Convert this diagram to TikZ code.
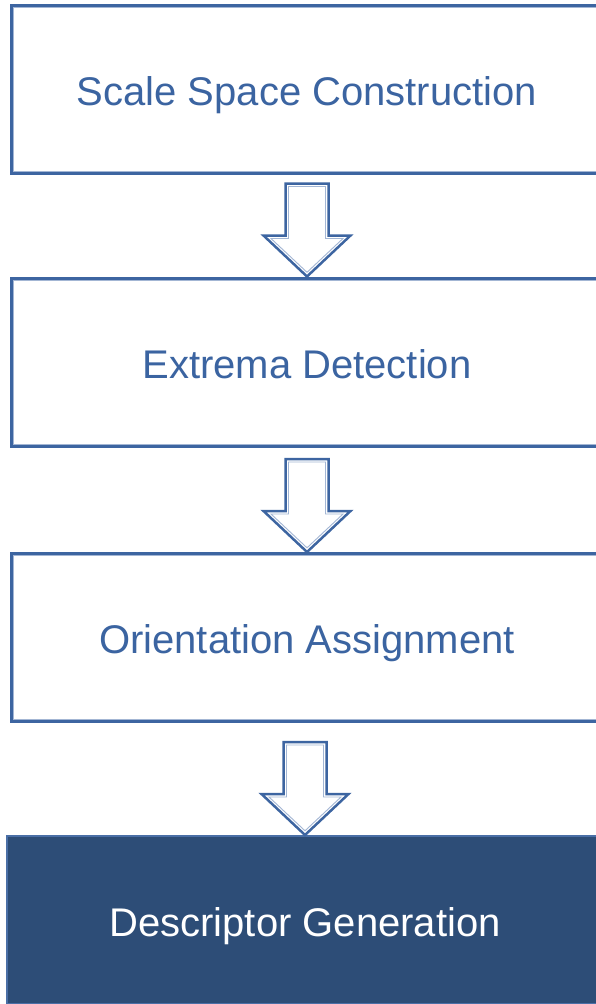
\documentclass[tikz,border=0pt]{standalone}
\usepackage{fontspec}
\setmainfont{Liberation Sans}
\usetikzlibrary{calc}
\definecolor{dblue}{HTML}{3D65A1}
\definecolor{lblue}{HTML}{A3B6D4}
\definecolor{txtblue}{HTML}{3B64A1}
\definecolor{navy}{HTML}{2D4D77}
\definecolor{navyedge}{HTML}{4A6FA6}
\tikzset{
  stage/.style={draw=dblue, line width=3pt, fill=white, minimum width=592pt, minimum height=168pt,
    inner sep=0pt, text=txtblue, font=\fontsize{40}{48}\selectfont, text height=32pt, text depth=0pt},
  laststage/.style={draw=navyedge, line width=2pt, fill=navy, minimum width=596pt, minimum height=168pt,
    inner sep=0pt, text=white, font=\fontsize{40}{48}\selectfont, text height=32pt, text depth=0pt},
  innerline/.style={draw=lblue, line width=1pt},
  arrowout/.style={draw=dblue, line width=2.5pt, fill=white, line join=miter},
  arrowin/.style={draw=lblue, line width=0.9pt, line join=miter},
}
\newcommand{\blockarrow}[2]{%
  \draw[arrowout] ($(#2.north)+(-21.5,-93)$) -- ($(#2.north)+(21.5,-93)$) -- ($(#2.north)+(21.5,-41)$)
    -- ($(#2.north)+(43.5,-41)$) -- (#2.north) -- ($(#2.north)+(-43.5,-41)$) -- ($(#2.north)+(-21.5,-41)$) -- cycle;
  \draw[arrowin] ($(#2.north)+(-18.5,-90)$) -- ($(#2.north)+(18.5,-90)$) -- ($(#2.north)+(18.5,-38)$)
    -- ($(#2.north)+(36,-38)$) -- ($(#2.north)+(0,-4.2)$) -- ($(#2.north)+(-36,-38)$) -- ($(#2.north)+(-18.5,-38)$) -- cycle;
}
\begin{document}
\begin{tikzpicture}[x=1pt,y=-1pt]
\useasboundingbox (0,0) rectangle (596,1004);
\node[stage] (b1) at (307,89.5) {Scale Space Construction};
\draw[innerline] ($(b1.north west)+(3.5,3.5)$) rectangle ($(b1.south east)+(-3.5,-3.5)$);
\node[stage] (b2) at (307,362) {Extrema Detection};
\draw[innerline] ($(b2.north west)+(3.5,3.5)$) rectangle ($(b2.south east)+(-3.5,-3.5)$);
\node[stage] (b3) at (307,637.5) {Orientation Assignment};
\draw[innerline] ($(b3.north west)+(3.5,3.5)$) rectangle ($(b3.south east)+(-3.5,-3.5)$);
\node[laststage] (b4) at (305,920) {Descriptor Generation};
\blockarrow{b1}{b2}
\blockarrow{b2}{b3}
\blockarrow{b3}{b4}
\end{tikzpicture}
\end{document}
